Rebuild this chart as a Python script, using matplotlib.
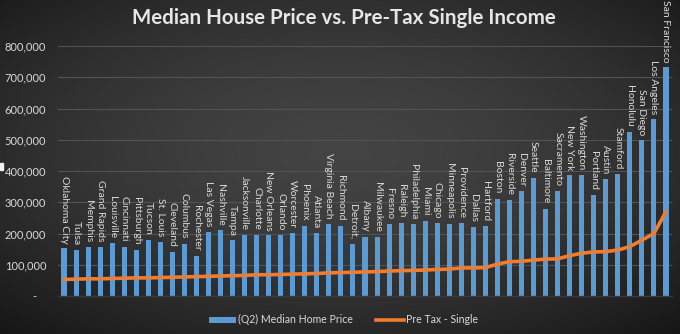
import numpy as np
import matplotlib
matplotlib.use("Agg")
import matplotlib.pyplot as plt
from matplotlib.lines import Line2D
from matplotlib.patches import Patch, Rectangle

cities = [
    "Oklahoma City", "Tulsa", "Memphis", "Grand Rapids", "Louisville", "Cincinnati",
    "Pittsburgh", "Tucson", "St. Louis", "Cleveland", "Columbus", "Rochester",
    "Las Vegas", "Nashville", "Tampa", "Jacksonville", "Charlotte", "New Orleans",
    "Orlando", "Worcester", "Phoenix", "Atlanta", "Virginia Beach", "Richmond",
    "Detroit,", "Albany", "Milwaukee", "Fresno", "Raleigh", "Philadelphia", "Miami",
    "Chicago", "Minneapolis", "Providence", "Dallas", "Hartford", "Boston",
    "Riverside", "Denver", "Seattle", "Baltimore", "Sacramento", "New York",
    "Washington", "Portland", "Austin", "Stamford", "Honolulu", "San Diego",
    "Los Angeles", "San Francisco",
]

median_home_price = [
    153000, 148000, 158000, 158000, 171000, 158000, 148000, 180000, 174000, 142000,
    167000, 128000, 206000, 210000, 178000, 196000, 196000, 194000, 195000, 201000,
    225000, 201000, 231000, 225000, 166000, 190000, 190000, 230000, 235000, 229000,
    241000, 233000, 232000, 234000, 222000, 225000, 312000, 308000, 335000, 378000,
    280000, 336000, 387000, 387000, 324000, 375000, 390000, 526000, 498000, 567000,
    733000,
]

pre_tax_single = [
    53000, 54000, 55000, 55000, 56000, 57000, 58000, 58000, 59000, 60000,
    61000, 62000, 63000, 64000, 65000, 66000, 68000, 68000, 69000, 70000,
    71000, 72000, 74000, 75000, 76000, 77000, 78000, 80000, 81000, 82000,
    83000, 85000, 86000, 90000, 90000, 91000, 102000, 110000, 111000, 115000,
    118000, 119000, 129000, 137000, 141000, 142000, 147000, 158000, 179000, 200000,
    270000,
]

y_ticks = [0, 100000, 200000, 300000, 400000, 500000, 600000, 700000, 800000]
y_tick_labels = ["-   ", "100,000", "200,000", "300,000", "400,000",
                 "500,000", "600,000", "700,000", "800,000"]

plt.rcParams["font.family"] = ["Lato", "DejaVu Sans"]

fig = plt.figure(figsize=(6.8, 3.34), dpi=100)

# dark vignette background
bg = fig.add_axes([0, 0, 1, 1], zorder=0)
yy, xx = np.mgrid[0:1:334j, 0:1:680j]
r = np.sqrt(((xx - 0.5) / 0.72) ** 2 + ((yy - 0.45) / 0.72) ** 2)
shade = np.clip(0.265 - 0.17 * r ** 1.6, 0.09, 0.28)
bg.imshow(np.dstack([shade, shade, shade]), extent=[0, 1, 0, 1],
          aspect="auto", interpolation="bilinear")
bg.set_axis_off()
bg.add_patch(Rectangle((0.0, 0.49), 0.005, 0.022, color="#f0f0f0",
                       transform=bg.transAxes))

ax = fig.add_axes([58 / 680, 1 - 296 / 334, 614 / 680, 250 / 334], zorder=1)
ax.set_facecolor("none")

x = np.arange(len(cities))
ax.bar(x, median_home_price, width=0.42, color="#5b9bd5", zorder=2)
ax.plot(x, pre_tax_single, color="#ed7d31", lw=2.6, zorder=3,
        solid_capstyle="round", solid_joinstyle="round")

for xi, val, name in zip(x, median_home_price, cities):
    ax.annotate(name, (xi, val), xytext=(0, 3.5), textcoords="offset points",
                rotation=270, ha="center", va="bottom", fontsize=7.5,
                color="#d9d9d9", zorder=4)

ax.set_xlim(-0.5, len(cities) - 0.5)
ax.set_ylim(0, 800000)
ax.set_yticks(y_ticks)
ax.set_yticklabels(y_tick_labels)
ax.set_xticks([])
ax.tick_params(axis="y", length=0, labelsize=8, labelcolor="#d9d9d9", pad=8.5)
ax.grid(axis="y", color="#535353", lw=0.8, zorder=0)
for side in ["top", "right", "left"]:
    ax.spines[side].set_visible(False)
ax.spines["bottom"].set_color("#3a3a3a")
ax.spines["bottom"].set_linewidth(1.0)

fig.text(0.505, 0.945, "Median House Price vs. Pre-Tax Single Income",
         ha="center", va="center", fontsize=14.8, fontweight="bold",
         color="#e6e6e6")

handles = [
    Patch(facecolor="#5b9bd5", edgecolor="none"),
    Line2D([0], [0], color="#ed7d31", lw=2.6),
]
fig.legend(handles, ["(Q2) Median Home Price", "Pre Tax - Single"],
           loc="center", bbox_to_anchor=(0.505, 0.042), ncol=2, frameon=False,
           fontsize=7.6, labelcolor="#d9d9d9", handlelength=2.6,
           handleheight=0.5, handletextpad=0.2, columnspacing=2.2)

fig.savefig("out.png", dpi=100)
